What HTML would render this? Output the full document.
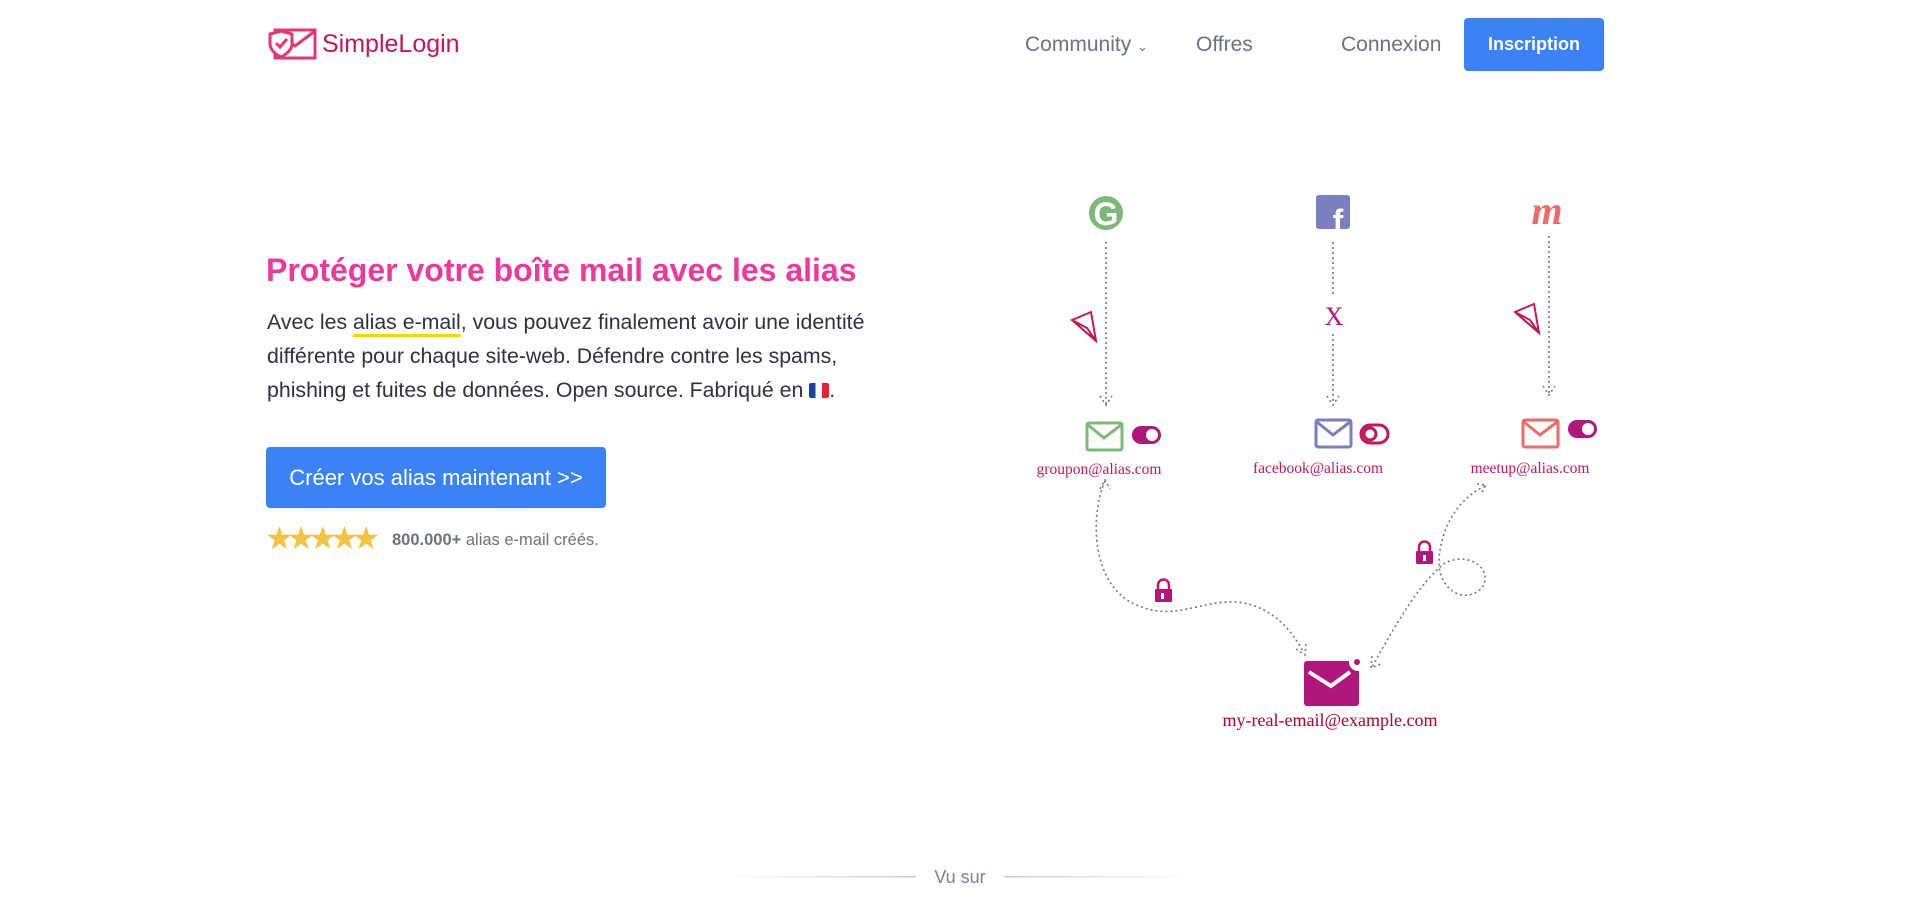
<!DOCTYPE html>
<html><head><meta charset="utf-8">
<style>
*{margin:0;padding:0;box-sizing:border-box}
html,body{width:1920px;height:913px;background:#fff;overflow:hidden;font-family:"Liberation Sans",sans-serif}
.abs{position:absolute;white-space:nowrap}
.nav{color:#6b7280;font-size:21px;top:33px}
</style></head><body>
<svg class="abs" style="left:267px;top:28px" width="50" height="32" viewBox="0 0 50 32">
<rect x="8" y="2" width="40" height="28" fill="none" stroke="#e8376e" stroke-width="3"/>
<path d="M8 3 L28 18 L48 3" fill="none" stroke="#e8376e" stroke-width="3"/>
<path d="M3 6 L14 3 L25 6 L25 16 C25 24 14 29 14 29 C14 29 3 24 3 16Z" fill="#fff" stroke="#e8376e" stroke-width="3"/>
<path d="M9 15 L13 19 L20 11" fill="none" stroke="#e8376e" stroke-width="3"/>
</svg>
<div class="abs" style="left:322px;top:30px;font-size:25px;color:#c2185b">SimpleLogin</div>

<div class="abs nav" style="left:1025px">Community <span style="font-size:13px">&#8964;</span></div>
<div class="abs nav" style="left:1196px">Offres</div>
<div class="abs nav" style="left:1341px">Connexion</div>
<div class="abs" style="left:1464px;top:18px;width:140px;height:53px;background:#3b82f6;border-radius:4px;color:#fff;font-weight:bold;font-size:18px;line-height:53px;text-align:center">Inscription</div>

<div class="abs" style="left:266px;top:252px;font-size:32px;font-weight:bold;color:#ec3a9b">Protéger votre boîte mail avec les alias</div>
<div class="abs" style="left:267px;top:305px;font-size:21.3px;line-height:34px;color:#2d3142">
Avec les <span style="border-bottom:3px solid #fcd400">alias e-mail</span>, vous pouvez finalement avoir une identité<br>
différente pour chaque site-web. Défendre contre les spams,<br>
phishing et fuites de données. Open source. Fabriqué en <span style="display:inline-block;width:20px;height:15px;background:linear-gradient(90deg,#1c3fa0 33%,#fff 33% 66%,#e1262d 66%);vertical-align:-1px;border-radius:2px"></span>.</div>

<div class="abs" style="left:266px;top:447px;width:340px;height:61px;background:#3b82f6;border-radius:4px;color:#fff;font-size:22px;line-height:61px;text-align:center">Créer vos alias maintenant &gt;&gt;</div>
<div class="abs" style="left:265px;top:522px;font-size:32px;color:#f5c242;letter-spacing:-7px;line-height:32px">★★★★★</div>
<div class="abs" style="left:392px;top:531px;font-size:16.5px;color:#6b7280"><b style="color:#6b7280">800.000+</b> alias e-mail créés.</div>

<svg class="abs" style="left:0;top:0" width="1920" height="913">
<g stroke="#777" stroke-width="1.6" stroke-dasharray="2 3" fill="none">
<line x1="1106" y1="242" x2="1106" y2="404"/>
<path d="M1100 396 L1106 405 L1112 396"/>
<line x1="1333" y1="242" x2="1333" y2="294"/>
<line x1="1333" y1="334" x2="1333" y2="404"/>
<path d="M1327 396 L1333 405 L1339 396"/>
<line x1="1549" y1="236" x2="1549" y2="394"/>
<path d="M1543 386 L1549 395 L1555 386"/>
<path d="M1105 481 C1090 514 1090 588 1139 606 C1176 621 1200 600 1237 602 C1273 606 1292 631 1304 653"/>
<path d="M1296 649 L1305 655 L1306 644"/>
<path d="M1100 489 L1105 480 L1110 489"/>
<path d="M1485 486 C1451 502 1439 539 1439 563 C1439 588 1463 606 1482 588 C1494 569 1469 551 1445 563 C1420 582 1396 624 1372 667"/>
<path d="M1372 656 L1371 668 L1381 664"/>
<path d="M1477 484 L1486 485 L1481 494"/>
</g>
<circle cx="1106" cy="213" r="17" fill="#7db87a"/>
<text x="1106" y="225" font-family="Liberation Sans" font-weight="bold" font-size="32" fill="#fff" text-anchor="middle">G</text>
<rect x="1316" y="195" width="34" height="34" rx="3" fill="#7a80bf"/>
<text x="1338" y="232" font-family="Liberation Sans" font-weight="bold" font-size="32" fill="#fff" text-anchor="middle">f</text>
<text x="1547" y="224" font-family="Liberation Serif" font-style="italic" font-weight="bold" font-size="40" fill="#f06a6a" text-anchor="middle">m</text>
<text x="1334" y="325" font-family="Liberation Serif" font-size="26" fill="#b0177a" text-anchor="middle">X</text>
<g fill="none" stroke="#c2185b" stroke-width="2">
<path d="M1072 320 L1091 312 L1096 341 Z M1072 320 L1087 328 L1096 341"/>
<path d="M1515 312 L1534 304 L1539 333 Z M1515 312 L1530 320 L1539 333"/>
</g>
<g fill="none" stroke-width="3">
<rect x="1087" y="423" width="35" height="27" rx="2" stroke="#7db87a"/><path d="M1088 425 L1104 438 L1121 425" stroke="#7db87a"/>
<rect x="1316" y="420" width="35" height="27" rx="2" stroke="#7a80bf"/><path d="M1317 422 L1333 435 L1350 422" stroke="#7a80bf"/>
<rect x="1523" y="420" width="35" height="27" rx="2" stroke="#f06a6a"/><path d="M1524 422 L1540 435 L1557 422" stroke="#f06a6a"/>
</g>
<rect x="1132" y="426" width="29" height="18" rx="9" fill="#b0177a"/><circle cx="1152" cy="435" r="6" fill="#fff"/>
<rect x="1361" y="425" width="27" height="18" rx="9" fill="none" stroke="#c2185b" stroke-width="3"/><circle cx="1370" cy="434" r="6" fill="none" stroke="#c2185b" stroke-width="3"/>
<rect x="1568" y="420" width="29" height="18" rx="9" fill="#b0177a"/><circle cx="1588" cy="429" r="6" fill="#fff"/>
<g font-family="Liberation Serif" font-size="15.5" fill="#c2185b" text-anchor="middle">
<text x="1099" y="474">groupon@alias.com</text>
<text x="1318" y="473">facebook@alias.com</text>
<text x="1530" y="473">meetup@alias.com</text>
</g>
<g fill="#b0177a">
<rect x="1155" y="589" width="17" height="13" rx="1"/><path d="M1158 590 V585 a5.5 5.5 0 0 1 11 0 V590" fill="none" stroke="#c2185b" stroke-width="2.5"/>
<rect x="1416" y="551" width="17" height="13" rx="1"/><path d="M1419 552 V547 a5.5 5.5 0 0 1 11 0 V552" fill="none" stroke="#c2185b" stroke-width="2.5"/>
</g>
<rect x="1161" y="593" width="3" height="6" fill="#fff"/><rect x="1423" y="555" width="3" height="6" fill="#fff"/>
<rect x="1304" y="661" width="55" height="45" rx="3" fill="#b0177a"/>
<path d="M1309 672 L1331 686 L1350 672" fill="none" stroke="#fff" stroke-width="4"/>
<circle cx="1358" cy="662" r="9" fill="#fff"/><circle cx="1357" cy="662" r="3" fill="#b0177a"/>
<text x="1330" y="726" font-family="Liberation Serif" font-size="18" fill="#b0002a" text-anchor="middle">my-real-email@example.com</text>
<defs>
<linearGradient id="gl" x1="0" x2="1"><stop offset="0" stop-color="#fff"/><stop offset="1" stop-color="#ccc"/></linearGradient>
<linearGradient id="gr" x1="0" x2="1"><stop offset="0" stop-color="#ccc"/><stop offset="1" stop-color="#fff"/></linearGradient>
</defs>
<rect x="722" y="876" width="194" height="1.5" fill="url(#gl)"/>
<rect x="1004" y="876" width="194" height="1.5" fill="url(#gr)"/>
<text x="960" y="883" font-family="Liberation Sans" font-size="18" fill="#7b8190" text-anchor="middle">Vu sur</text>
</svg>
</body></html>
